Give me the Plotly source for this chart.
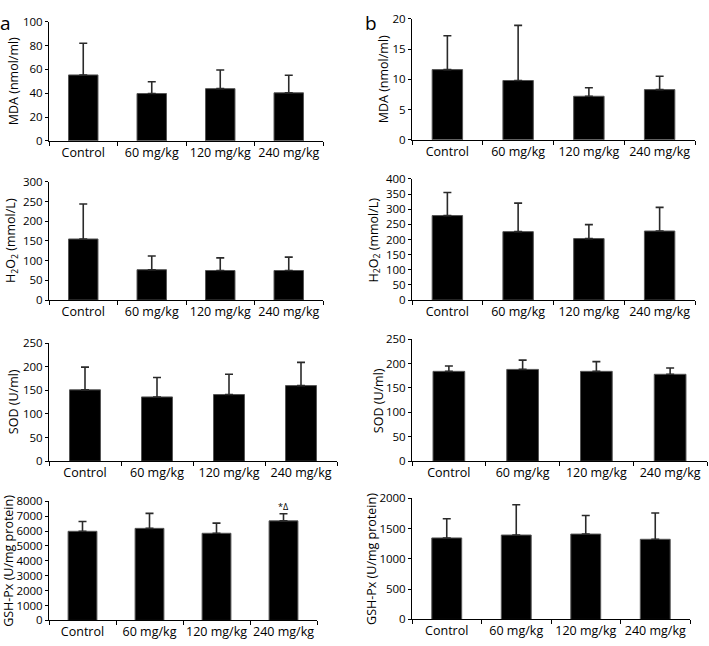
import plotly.graph_objects as go

categories = ["Control", "60 mg/kg", "120 mg/kg", "240 mg/kg"]

mda_a = [55.3, 39.7, 43.8, 40.3]
mda_a_sd = [26.6, 9.9, 15.7, 14.7]
mda_b = [11.6, 9.8, 7.2, 8.3]
mda_b_sd = [5.6, 9.1, 1.4, 2.2]
h2o2_a = [155, 77, 75, 75]
h2o2_a_sd = [89, 35, 32, 34]
h2o2_b = [279, 226, 203, 228]
h2o2_b_sd = [76, 94, 46, 78]
sod_a = [151, 136, 141, 160]
sod_a_sd = [48, 41, 43, 49]
sod_b = [184, 188, 184, 178]
sod_b_sd = [11, 19, 20, 13]
gsh_a = [5984, 6181, 5852, 6685]
gsh_a_sd = [657, 1008, 679, 482]
gsh_b = [1346, 1394, 1410, 1324]
gsh_b_sd = [316, 499, 306, 435]

y_titles = ["MDA (nmol/ml)", "H<sub>2</sub>O<sub>2</sub> (mmol/L)", "SOD (U/ml)", "GSH-Px (U/mg protein)"]

W, H = 709, 646
FONT = "Open Sans"
XTICK = 12.5
YTICK = 11.5
TITLE = 12.5

# panel specs: values, sd, title, ymax, dtick, pixel box (x0, x1, ytop, ybottom), title x centre
panels = [
    (mda_a, mda_a_sd, y_titles[0], 100, 20, (49, 323, 14, 136), 13),
    (mda_b, mda_b_sd, y_titles[0], 20, 5, (412, 695, 11, 135), 383),
    (h2o2_a, h2o2_a_sd, y_titles[1], 300, 50, (49, 323, 178, 299), 12),
    (h2o2_b, h2o2_b_sd, y_titles[1], 400, 50, (412, 695, 175, 299), 374),
    (sod_a, sod_a_sd, y_titles[2], 250, 50, (49, 337, 343, 464), 13),
    (sod_b, sod_b_sd, y_titles[2], 250, 50, (412, 707, 339, 464), 378),
    (gsh_a, gsh_a_sd, y_titles[3], 8000, 1000, (49, 317, 505, 627), 9),
    (gsh_b, gsh_b_sd, y_titles[3], 2000, 500, (412, 690, 502, 626), 372),
]

fig = go.Figure()
layout = {}
annotations = []
for i, (vals, sd, title, ymax, dt, box, tx) in enumerate(panels):
    n = i + 1
    xa = "x" if n == 1 else f"x{n}"
    ya = "y" if n == 1 else f"y{n}"
    fig.add_trace(go.Bar(
        x=categories, y=vals, xaxis=xa, yaxis=ya,
        marker=dict(color="black", line=dict(color="#555555", width=1)),
        error_y=dict(type="data", array=sd, arrayminus=[0] * len(sd), symmetric=False,
                     color="#2a2a2a", thickness=1.6, width=4),
        showlegend=False,
    ))
    x0, x1, yt, yb = box
    xkey = "xaxis" if n == 1 else f"xaxis{n}"
    ykey = "yaxis" if n == 1 else f"yaxis{n}"
    layout[xkey] = dict(
        domain=[x0 / W, x1 / W], anchor=ya, type="category",
        range=[-0.5, 3.5], showline=True, linecolor="black", linewidth=1,
        ticks="outside", tickson="boundaries", ticklen=4, tickcolor="black",
        tickangle=0, showgrid=False, zeroline=False,
        tickfont=dict(family=FONT, size=XTICK, color="black"),
    )
    layout[ykey] = dict(
        domain=[1 - yb / H, 1 - yt / H], anchor=xa, range=[0, ymax], dtick=dt,
        showline=True, linecolor="black", linewidth=1, ticks="outside", ticklen=3,
        tickcolor="black", showgrid=False, zeroline=False,
        tickfont=dict(family=FONT, size=YTICK, color="black"),
    )
    annotations.append(dict(
        text=title, textangle=-90, x=tx / W, y=1 - (yt + yb) / 2 / H,
        xref="paper", yref="paper", xanchor="center", yanchor="middle",
        showarrow=False, borderpad=0, font=dict(family=FONT, size=TITLE, color="black"),
    ))

annotations += [
    dict(text="a", x=-2 / W, y=1 - 0 / H, xref="paper", yref="paper",
         xanchor="left", yanchor="top", showarrow=False,
         font=dict(family=FONT, size=19, color="black")),
    dict(text="b", x=363 / W, y=1 - 0 / H, xref="paper", yref="paper",
         xanchor="left", yanchor="top", showarrow=False,
         font=dict(family=FONT, size=19, color="black")),
    dict(text="*Δ", x=categories[3], y=gsh_a[3] + gsh_a_sd[3], xref="x7", yref="y7",
         yanchor="bottom", showarrow=False, yshift=-1,
         font=dict(family=FONT, size=9, color="black")),
]

fig.update_layout(**layout)
fig.update_layout(
    width=W, height=H, margin=dict(l=0, r=0, t=0, b=0),
    paper_bgcolor="white", plot_bgcolor="white", bargap=0.57,
    font=dict(family=FONT, color="black"),
    annotations=annotations,
)

fig.write_html(
    "out.html",
    config={"displayModeBar": False},
    post_script="document.body.style.margin='0';document.body.style.padding='0';",
)
